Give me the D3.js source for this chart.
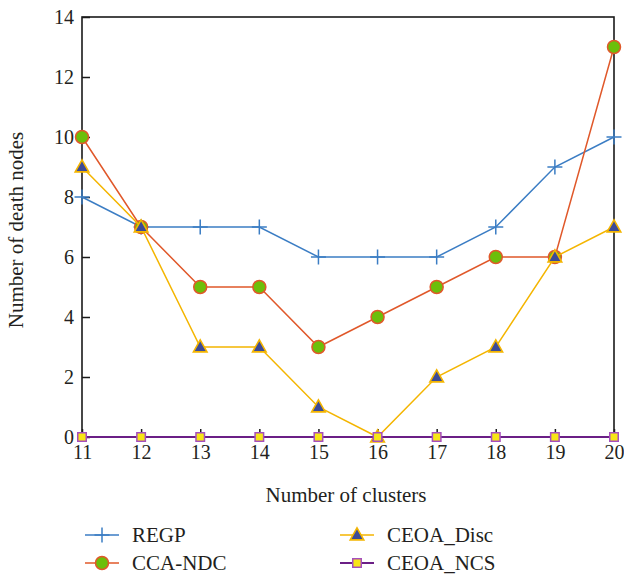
<!DOCTYPE html>
<html><head><meta charset="utf-8">
<script src="https://cdn.jsdelivr.net/npm/d3@7"></script>
<style>body{margin:0;background:#fff}svg{display:block}text{font-family:"Liberation Serif","DejaVu Serif",serif;fill:#231f20}</style>
</head><body>
<svg id="c" width="624" height="577"></svg>
<script>
const clusters = [11,12,13,14,15,16,17,18,19,20];
const regp = [8,7,7,7,6,6,6,7,9,10];
const ccaNdc = [10,7,5,5,3,4,5,6,6,13];
const ceoaDisc = [9,7,3,3,1,0,2,3,6,7];
const ceoaNcs = [0,0,0,0,0,0,0,0,0,0];
const yTicks = [0,2,4,6,8,10,12,14];
const seriesNames = ["REGP","CCA-NDC","CEOA_Disc","CEOA_NCS"];

const series = [
  {name:seriesNames[0], values:regp, line:"#3b7dc4", marker:"plus", fill:"none", stroke:"#3b7dc4"},
  {name:seriesNames[1], values:ccaNdc, line:"#e0582a", marker:"circle", fill:"#6cbf0a", stroke:"#e0582a"},
  {name:seriesNames[2], values:ceoaDisc, line:"#f4b500", marker:"triangle", fill:"#3d4b98", stroke:"#f4b500"},
  {name:seriesNames[3], values:ceoaNcs, line:"#6b1f86", marker:"square", fill:"#f7e616", stroke:"#a64fbd"}
];

const svg = d3.select("#c");
const L=82, R=614, T=17, B=437;
const x = d3.scaleLinear().domain([11,20]).range([L,R]);
const y = d3.scaleLinear().domain([0,14]).range([B,T]);

svg.append("rect").attr("x",L).attr("y",T).attr("width",R-L).attr("height",B-T)
  .attr("fill","none").attr("stroke","#1a1a1a").attr("stroke-width",1.6);

const xAxis = d3.axisBottom(x).tickValues(clusters).tickFormat(d3.format("d")).tickSizeInner(-8).tickSizeOuter(0).tickPadding(16);
const gx = svg.append("g").attr("transform",`translate(0,${B})`).call(xAxis);
const yAxis = d3.axisLeft(y).tickValues(yTicks).tickSizeInner(-8).tickSizeOuter(0).tickPadding(18);
const gy = svg.append("g").attr("transform",`translate(${L},0)`).call(yAxis);
[gx,gy].forEach(g=>{
  g.select(".domain").remove();
  g.selectAll(".tick line").attr("stroke","#1a1a1a").attr("stroke-width",1.5);
  g.selectAll(".tick text").style("font-size","20px").attr("fill","#231f20")
   .style("font-family",'"Liberation Serif",serif');
});
gx.selectAll(".tick text").attr("dy","0.71em").attr("y",8);
gy.selectAll(".tick text").attr("x",-8);

svg.append("text").attr("x",(L+R)/2 - 2).attr("y",502).attr("text-anchor","middle")
  .style("font-size","21px").text("Number of clusters");
svg.append("text").attr("transform",`translate(23,${(T+B)/2 + 3}) rotate(-90)`).attr("text-anchor","middle")
  .style("font-size","21px").text("Number of death nodes");

function drawMarker(g, type, cx, cy, s, fill, stroke){
  if(type==="plus"){
    g.append("path").attr("d",`M${cx-s*0.75},${cy}H${cx+s*0.75}M${cx},${cy-s*0.75}V${cy+s*0.75}`)
      .attr("stroke",stroke).attr("stroke-width",1.5).attr("fill","none");
  } else if(type==="circle"){
    g.append("circle").attr("cx",cx).attr("cy",cy).attr("r",s*0.65).attr("fill",fill).attr("stroke",stroke).attr("stroke-width",1.5);
  } else if(type==="triangle"){
    const h=s*1.15;
    g.append("path").attr("d",`M${cx},${cy-h*0.62}L${cx+s*0.68},${cy+h*0.42}L${cx-s*0.68},${cy+h*0.42}Z`)
      .attr("fill",fill).attr("stroke",stroke).attr("stroke-width",1.6);
  } else {
    const w=s*0.85;
    g.append("rect").attr("x",cx-w/2).attr("y",cy-w/2).attr("width",w).attr("height",w)
      .attr("fill",fill).attr("stroke",stroke).attr("stroke-width",1.5);
  }
}

const line = d3.line().x((d,i)=>x(clusters[i])).y(d=>y(d));
series.forEach(s=>{
  const g = svg.append("g");
  g.append("path").datum(s.values).attr("d",line).attr("fill","none")
    .attr("stroke",s.line).attr("stroke-width", s.marker==="square"?2.2:1.5);
  s.values.forEach((v,i)=>drawMarker(g, s.marker, x(clusters[i]), y(v), 10, s.fill, s.stroke));
});

const legendPos = [[85,535],[85,563],[340,535],[340,563]];
series.forEach((s,i)=>{
  const [lx,ly] = legendPos[i];
  const g = svg.append("g");
  g.append("line").attr("x1",lx).attr("x2",lx+34).attr("y1",ly).attr("y2",ly)
    .attr("stroke",s.line).attr("stroke-width",s.marker==="square"?2.2:1.5);
  drawMarker(g, s.marker, lx+17, ly, 10, s.fill, s.stroke);
  g.append("text").attr("x",lx+47).attr("y",ly).attr("dy","0.35em").style("font-size","21px").text(s.name);
});
</script>
</body></html>
